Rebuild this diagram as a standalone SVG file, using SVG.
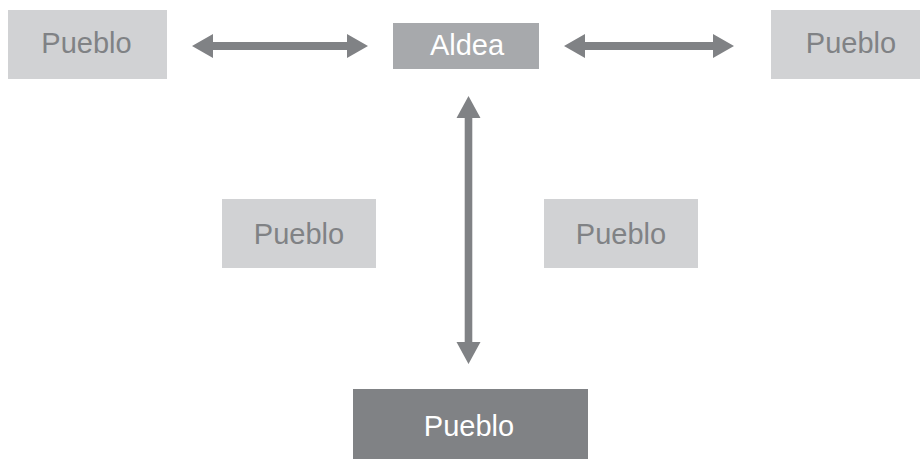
<svg xmlns="http://www.w3.org/2000/svg" width="920" height="461" viewBox="0 0 920 461">
<style>
.light{fill:#d1d2d4}
.mid{fill:#a7a9ac}
.dark{fill:#808285}
.t{font-family:"Liberation Sans",Arial,Helvetica,sans-serif;font-size:29px;text-anchor:middle}
.tg{fill:#808285}
.tw{fill:#ffffff}
.arr{fill:#808285}
</style>
<rect width="920" height="461" fill="#ffffff"/>
<g id="connectors">
<polygon class="arr" points="192,46 213,34 213,42 347,42 347,34 368,46 347,58 347,50 213,50 213,58"/>
<polygon class="arr" points="564,46 585,34 585,42 713,42 713,34 734,46 713,58 713,50 585,50 585,58"/>
<polygon class="arr" points="468.5,96 480.5,118 472.3,118 472.3,342 480.5,342 468.5,364 456.5,342 464.7,342 464.7,118 456.5,118"/>
</g>
<g id="pueblo-top-left">
<rect class="light" x="8" y="10" width="159" height="69"/>
<text class="t tg" x="86.5" y="53">Pueblo</text>
</g>
<g id="aldea">
<rect class="mid" x="393" y="23" width="146" height="46"/>
<text class="t tw" x="467" y="54.5">Aldea</text>
</g>
<g id="pueblo-top-right">
<rect class="light" x="771" y="10" width="159" height="69"/>
<text class="t tg" x="851" y="53">Pueblo</text>
</g>
<g id="pueblo-mid-left">
<rect class="light" x="222" y="199" width="154" height="69"/>
<text class="t tg" x="299" y="243.5">Pueblo</text>
</g>
<g id="pueblo-mid-right">
<rect class="light" x="544" y="199" width="154" height="69"/>
<text class="t tg" x="621" y="243.5">Pueblo</text>
</g>
<g id="pueblo-bottom">
<rect class="dark" x="353" y="389" width="235" height="70"/>
<text class="t tw" x="469" y="435.5">Pueblo</text>
</g>
</svg>
